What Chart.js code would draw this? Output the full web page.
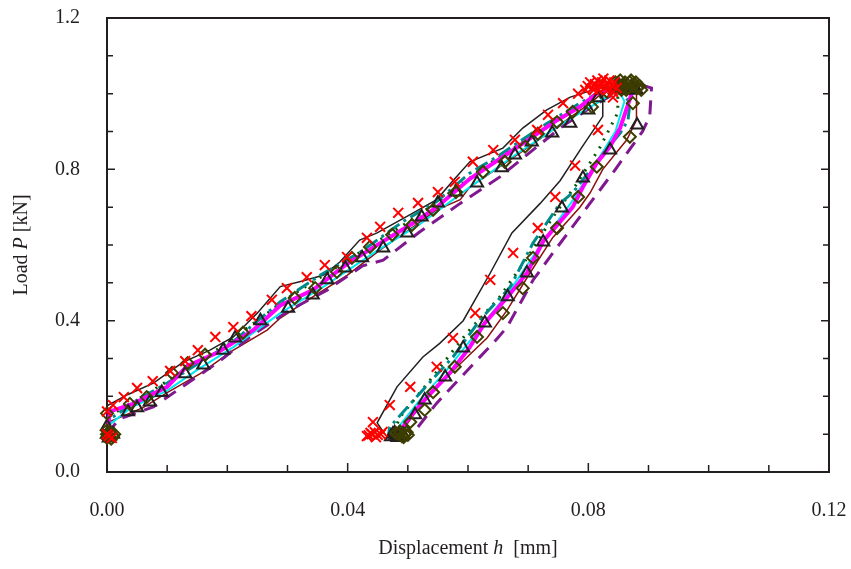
<!DOCTYPE html>
<html>
<head>
<meta charset="utf-8">
<script src="https://cdn.jsdelivr.net/npm/chart.js@4.4.0/dist/chart.umd.min.js"></script>
<style>
  html, body { margin: 0; padding: 0; background: #fff; }
</style>
</head>
<body>
<canvas id="chart" width="851" height="569"></canvas>
<script>
// Load P [kN] vs displacement h [mm], loading + unloading loops

// black thin line
const blkH = [0, 0, 0.0035, 0.0077, 0.0126, 0.0171, 0.021, 0.025, 0.0288, 0.0325, 0.0359, 0.0387, 0.042, 0.0449, 0.0509, 0.0548, 0.0575, 0.0603, 0.0658, 0.0691, 0.0731, 0.077, 0.0808, 0.0822,
  0.0824, 0.0824, 0.079, 0.0753, 0.072, 0.0673, 0.0637, 0.0592, 0.0553, 0.0525, 0.0482, 0.0449, 0.0462];
const blkP = [0.10, 0.175, 0.205, 0.235, 0.29, 0.322, 0.357, 0.42, 0.49, 0.505, 0.52, 0.555, 0.613, 0.632, 0.685, 0.72, 0.77, 0.82, 0.856, 0.909, 0.957, 0.991, 1.01, 1.025,
  1.02, 0.94, 0.86, 0.77, 0.71, 0.632, 0.526, 0.40, 0.34, 0.304, 0.225, 0.13, 0.10];

// dark red line
const marH = [0, 0, 0.006, 0.01, 0.0155, 0.021, 0.0266, 0.0288, 0.0342, 0.0399, 0.0454, 0.0509, 0.0548, 0.0587, 0.0603, 0.0686, 0.0748, 0.0803, 0.0836, 0.088,
  0.088, 0.0864, 0.0824, 0.0803, 0.0786, 0.0741, 0.0703, 0.0665, 0.0632, 0.0582, 0.0532, 0.05, 0.049];
const marP = [0.10, 0.13, 0.17, 0.21, 0.26, 0.322, 0.375, 0.407, 0.463, 0.52, 0.587, 0.648, 0.693, 0.72, 0.753, 0.843, 0.912, 0.975, 1.018, 1.02,
  0.93, 0.878, 0.80, 0.738, 0.70, 0.62, 0.526, 0.428, 0.355, 0.278, 0.198, 0.13, 0.10];

// magenta thick line
const magH = [0, 0.0005, 0.0043, 0.01, 0.0133, 0.0183, 0.0243, 0.0288, 0.0342, 0.0399, 0.0454, 0.0509, 0.0548, 0.0603, 0.0675, 0.0748, 0.0786, 0.0814, 0.0845, 0.0866,
  0.0872, 0.0853, 0.0836, 0.0814, 0.0791, 0.0774, 0.0725, 0.0698, 0.0666, 0.0628, 0.0603, 0.057, 0.0532, 0.0499, 0.0485];
const magP = [0.10, 0.16, 0.18, 0.225, 0.28, 0.315, 0.375, 0.44, 0.481, 0.55, 0.605, 0.658, 0.70, 0.775, 0.851, 0.93, 0.965, 1.0, 1.015, 1.015,
  1.0, 0.91, 0.86, 0.817, 0.753, 0.70, 0.61, 0.526, 0.463, 0.394, 0.33, 0.262, 0.198, 0.137, 0.10];

// teal dash-dot
const tealH = [0, 0.0005, 0.005, 0.01, 0.0155, 0.021, 0.0288, 0.0354, 0.042, 0.0492, 0.0548, 0.0603, 0.0648, 0.0715, 0.0786, 0.0825, 0.085,
  0.0869, 0.0866, 0.0853, 0.0814, 0.0775, 0.0753, 0.0708, 0.067, 0.062, 0.0575, 0.0525, 0.047, 0.0468];
const tealP = [0.10, 0.14, 0.19, 0.235, 0.29, 0.345, 0.45, 0.52, 0.58, 0.662, 0.715, 0.79, 0.833, 0.905, 0.975, 1.01, 1.02,
  0.975, 0.93, 0.896, 0.82, 0.74, 0.71, 0.605, 0.489, 0.402, 0.304, 0.217, 0.119, 0.10];

// dark green dotted
const grnH = [0, 0.0005, 0.006, 0.012, 0.018, 0.025, 0.031, 0.037, 0.044, 0.051, 0.058, 0.064, 0.07, 0.0765, 0.082, 0.0849,
  0.0849, 0.082, 0.078, 0.0741, 0.07, 0.0653, 0.0598, 0.0537, 0.0487, 0.0475];
const grnP = [0.10, 0.15, 0.20, 0.26, 0.32, 0.40, 0.47, 0.53, 0.60, 0.67, 0.75, 0.82, 0.88, 0.945, 0.99, 1.01,
  0.95, 0.86, 0.76, 0.674, 0.57, 0.463, 0.367, 0.243, 0.145, 0.10];

// cyan line
const cyH = [0, 0.004, 0.01, 0.015, 0.021, 0.0288, 0.036, 0.0449, 0.052, 0.0603, 0.068, 0.0758, 0.0814, 0.085,
  0.086, 0.0845, 0.081, 0.0775, 0.0725, 0.067, 0.062, 0.0565, 0.052, 0.0485];
const cyP = [0.12, 0.17, 0.215, 0.27, 0.33, 0.42, 0.49, 0.585, 0.655, 0.753, 0.84, 0.922, 0.975, 1.01,
  0.98, 0.90, 0.81, 0.72, 0.61, 0.48, 0.38, 0.27, 0.19, 0.12];

// purple dashed
const purH = [0, 0.002, 0.0077, 0.0125, 0.0183, 0.024, 0.0304, 0.0365, 0.0425, 0.0459, 0.052, 0.0587, 0.0653, 0.0703, 0.0758, 0.081, 0.0855, 0.0885, 0.0905,
  0.0902, 0.089, 0.0845, 0.0798, 0.0736, 0.0708, 0.0665, 0.0642, 0.0615, 0.0548, 0.0509];
const purP = [0.10, 0.14, 0.172, 0.225, 0.288, 0.36, 0.428, 0.48, 0.545, 0.56, 0.635, 0.71, 0.78, 0.845, 0.915, 0.97, 1.01, 1.025, 1.015,
  0.94, 0.90, 0.80, 0.70, 0.568, 0.507, 0.383, 0.341, 0.296, 0.182, 0.103];

// red x markers
const xH = [0, 0.0003, 0.0008, 0, 0.001, 0.0028, 0.005, 0.0076, 0.0105, 0.013, 0.0151, 0.018, 0.021, 0.024, 0.0274, 0.0299, 0.0332, 0.0362, 0.0399, 0.0432, 0.0454, 0.0484, 0.0517, 0.055, 0.0578,
  0.0608, 0.0642, 0.0678, 0.0715, 0.0733, 0.0758, 0.0783, 0.0795,
  0.0799, 0.0803, 0.0807, 0.0811, 0.0815, 0.0819, 0.0823, 0.0827, 0.0831, 0.0835, 0.0839, 0.0843, 0.0847, 0.0809, 0.0817, 0.0825, 0.0833, 0.0841,
  0.0841, 0.0816, 0.0778, 0.0745, 0.0716, 0.0675, 0.0637, 0.0612, 0.0575, 0.0548, 0.0504, 0.047, 0.0442,
  0.0445, 0.044, 0.0435, 0.045, 0.0455, 0.0438, 0.0432, 0.0447, 0.0458];
const xP = [0.10, 0.095, 0.09, 0.16, 0.177, 0.198, 0.222, 0.24, 0.267, 0.293, 0.322, 0.357, 0.383, 0.412, 0.455, 0.486, 0.515, 0.547, 0.568, 0.619, 0.648, 0.685, 0.711, 0.74, 0.767,
  0.82, 0.851, 0.878, 0.904, 0.944, 0.975, 1.0, 1.01,
  1.02, 1.03, 1.015, 1.025, 1.035, 1.02, 1.03, 1.015, 1.025, 1.035, 1.02, 1.03, 1.015, 1.01, 1.01, 1.04, 1.01, 1.005,
  0.99, 0.904, 0.81, 0.727, 0.645, 0.579, 0.508, 0.42, 0.354, 0.278, 0.225, 0.177, 0.132,
  0.105, 0.10, 0.097, 0.098, 0.10, 0.103, 0.095, 0.092, 0.106];

// olive diamonds
const dmH = [0, 0, 0.0005, 0.001, 0, 0.0012, 0.0007, 0, 0.0038, 0.0066, 0.0108, 0.0134, 0.0163, 0.0226, 0.0312, 0.0346, 0.0382, 0.0407, 0.0437, 0.0474, 0.0507, 0.0542, 0.058,
  0.0625, 0.0661, 0.0695, 0.0716, 0.0748, 0.0774, 0.0806, 0.0831,
  0.0845, 0.0849, 0.0853, 0.0857, 0.0861, 0.0865, 0.0869, 0.0873, 0.0877, 0.0881, 0.0885, 0.0888, 0.0855, 0.0863, 0.0871, 0.0879,
  0.0874, 0.0869, 0.0814, 0.0783, 0.0748, 0.0708, 0.0691, 0.0658, 0.0615, 0.0578, 0.0542, 0.0528, 0.0504,
  0.0495, 0.049, 0.0485, 0.05, 0.048, 0.0493, 0.0498, 0.0487];
const dmP = [0.10, 0.09, 0.105, 0.095, 0.11, 0.10, 0.088, 0.155, 0.18, 0.198, 0.262, 0.288, 0.31, 0.368, 0.46, 0.486, 0.529, 0.566, 0.595, 0.627, 0.653, 0.693, 0.74,
  0.793, 0.82, 0.86, 0.894, 0.925, 0.952, 0.965, 1.005,
  1.03, 1.02, 1.035, 1.02, 1.03, 1.015, 1.03, 1.02, 1.025, 1.015, 1.02, 1.01, 1.01, 1.01, 1.035, 1.03,
  0.975, 0.886, 0.807, 0.727, 0.645, 0.566, 0.486, 0.42, 0.357, 0.278, 0.211, 0.164, 0.132,
  0.10, 0.095, 0.10, 0.098, 0.103, 0.092, 0.105, 0.107];

// black triangles
const trH = [0, 0.0005, 0.001, 0, 0.0003, 0.0035, 0.005, 0.0071, 0.0091, 0.013, 0.016, 0.0193, 0.0213, 0.0255, 0.0301, 0.0342, 0.0366, 0.0396, 0.0424, 0.0459, 0.0499, 0.0523, 0.055, 0.058,
  0.0615, 0.0656, 0.0678, 0.0706, 0.074, 0.077, 0.08, 0.0816,
  0.0848, 0.0852, 0.0856, 0.086, 0.0864, 0.0868, 0.0872, 0.0876, 0.088,
  0.0881, 0.0836, 0.0791, 0.0756, 0.0725, 0.0698, 0.0666, 0.0628, 0.0592, 0.0562, 0.0528, 0.0512,
  0.0485, 0.048, 0.0475, 0.0478, 0.0488, 0.0472, 0.0483, 0.0492];
const trP = [0.10, 0.095, 0.10, 0.12, 0.09, 0.159, 0.17, 0.185, 0.21, 0.26, 0.283, 0.322, 0.354, 0.40, 0.433, 0.468, 0.508, 0.539, 0.566, 0.592, 0.632, 0.674, 0.711, 0.74,
  0.764, 0.804, 0.838, 0.872, 0.896, 0.922, 0.957, 0.989,
  1.015, 1.02, 1.01, 1.02, 1.015, 1.01, 1.02, 1.015, 1.01,
  0.917, 0.851, 0.777, 0.698, 0.608, 0.526, 0.463, 0.394, 0.328, 0.251, 0.19, 0.151,
  0.10, 0.097, 0.10, 0.104, 0.095, 0.093, 0.091, 0.10];

const pts = (h, p) => h.map((v, i) => ({ x: v, y: p[i] }));

const ink = '#231f20';
const serif = 'Liberation Serif';

function lineSet(h, p, color, width, dash) {
  return {
    data: pts(h, p), showLine: true, borderColor: color, borderWidth: width,
    borderDash: dash || [], pointRadius: 0, fill: false, tension: 0, clip: false
  };
}
function markSet(h, p, style, color, r) {
  return {
    data: pts(h, p), showLine: false, pointStyle: style, pointRadius: r,
    borderColor: color, backgroundColor: 'rgba(0,0,0,0)', pointBorderWidth: 2, clip: false
  };
}

// frame, inward ticks and axis titles
const framePlugin = {
  id: 'frame',
  beforeDatasetsDraw(chart) {
    const { ctx, chartArea: a, scales: { x, y } } = chart;
    ctx.save();
    ctx.strokeStyle = ink;
    ctx.lineWidth = 2;
    ctx.strokeRect(a.left, a.top, a.right - a.left, a.bottom - a.top);
    ctx.lineWidth = 1.5;
    ctx.beginPath();
    for (let i = 1; i < 12; i++) {
      const px = x.getPixelForValue(i / 100);
      const len = i % 4 === 0 ? 9 : 7;
      ctx.moveTo(px, a.bottom); ctx.lineTo(px, a.bottom - len);
    }
    for (let i = 1; i < 12; i++) {
      const py = y.getPixelForValue(i / 10);
      const len = i % 4 === 0 ? 8 : 6;
      ctx.moveTo(a.left, py); ctx.lineTo(a.left + len, py);
      ctx.moveTo(a.right, py); ctx.lineTo(a.right - len, py);
    }
    ctx.stroke();
    ctx.restore();
  },
  afterDraw(chart) {
    const { ctx, chartArea: a } = chart;
    const parts = (segs) => segs.map(s => ({ t: s[0], f: (s[1] ? 'italic ' : '') + '20px "' + serif + '"' }));
    const drawRun = (segs, cx, cy) => {
      let w = 0;
      segs.forEach(s => { ctx.font = s.f; s.w = ctx.measureText(s.t).width; w += s.w; });
      let px = cx - w / 2;
      segs.forEach(s => { ctx.font = s.f; ctx.fillText(s.t, px, cy); px += s.w; });
    };
    ctx.save();
    ctx.fillStyle = ink;
    ctx.textBaseline = 'middle';
    ctx.textAlign = 'left';
    drawRun(parts([['Displacement ', false], ['h', true], ['  [mm]', false]]), (a.left + a.right) / 2, 549);
    ctx.translate(22, (a.top + a.bottom) / 2);
    ctx.rotate(-Math.PI / 2);
    drawRun(parts([['Load ', false], ['P', true], [' [kN]', false]]), 0, 0);
    ctx.restore();
  }
};

new Chart(document.getElementById('chart'), {
  type: 'scatter',
  data: {
    datasets: [
      markSet(xH, xP, 'crossRot', '#ff0000', 7),
      markSet(dmH, dmP, 'rectRot', '#3d3d00', 6),
      markSet(trH, trP, 'triangle', ink, 7),
      lineSet(magH, magP, '#ff00ff', 4),
      lineSet(tealH, tealP, '#008b8b', 3, [14, 5, 3, 5]),
      lineSet(grnH, grnP, '#005500', 3, [2, 7]),
      lineSet(cyH, cyP, '#00e8f0', 2),
      lineSet(purH, purP, '#80188f', 3, [14, 9]),
      lineSet(marH, marP, '#8b1010', 1.5),
      lineSet(blkH, blkP, ink, 1.5)
    ]
  },
  options: {
    responsive: false,
    animation: false,
    layout: { padding: { left: 0, right: 22, top: 18, bottom: 0 } },
    plugins: { legend: { display: false }, tooltip: { enabled: false } },
    scales: {
      x: {
        type: 'linear', min: 0, max: 0.12,
        grid: { display: false, drawTicks: false },
        border: { display: false },
        afterFit: s => { s.height = 97; s.paddingLeft = 0; s.paddingRight = 0; },
        ticks: {
          stepSize: 0.01, autoSkip: false, maxRotation: 0, padding: 27, color: ink,
          font: { family: serif, size: 20 },
          callback: v => (Math.round(v * 100) % 4 === 0 ? v.toFixed(2) : '')
        }
      },
      y: {
        type: 'linear', min: 0, max: 1.2,
        grid: { display: false, drawTicks: false },
        border: { display: false },
        afterFit: s => { s.width = 107; s.paddingTop = 0; s.paddingBottom = 0; },
        ticks: {
          stepSize: 0.1, autoSkip: false, padding: 27, color: ink,
          font: { family: serif, size: 20 },
          callback: v => (Math.round(v * 10) % 4 === 0 ? v.toFixed(1) : '')
        }
      }
    }
  },
  plugins: [framePlugin]
});
</script>
</body>
</html>
